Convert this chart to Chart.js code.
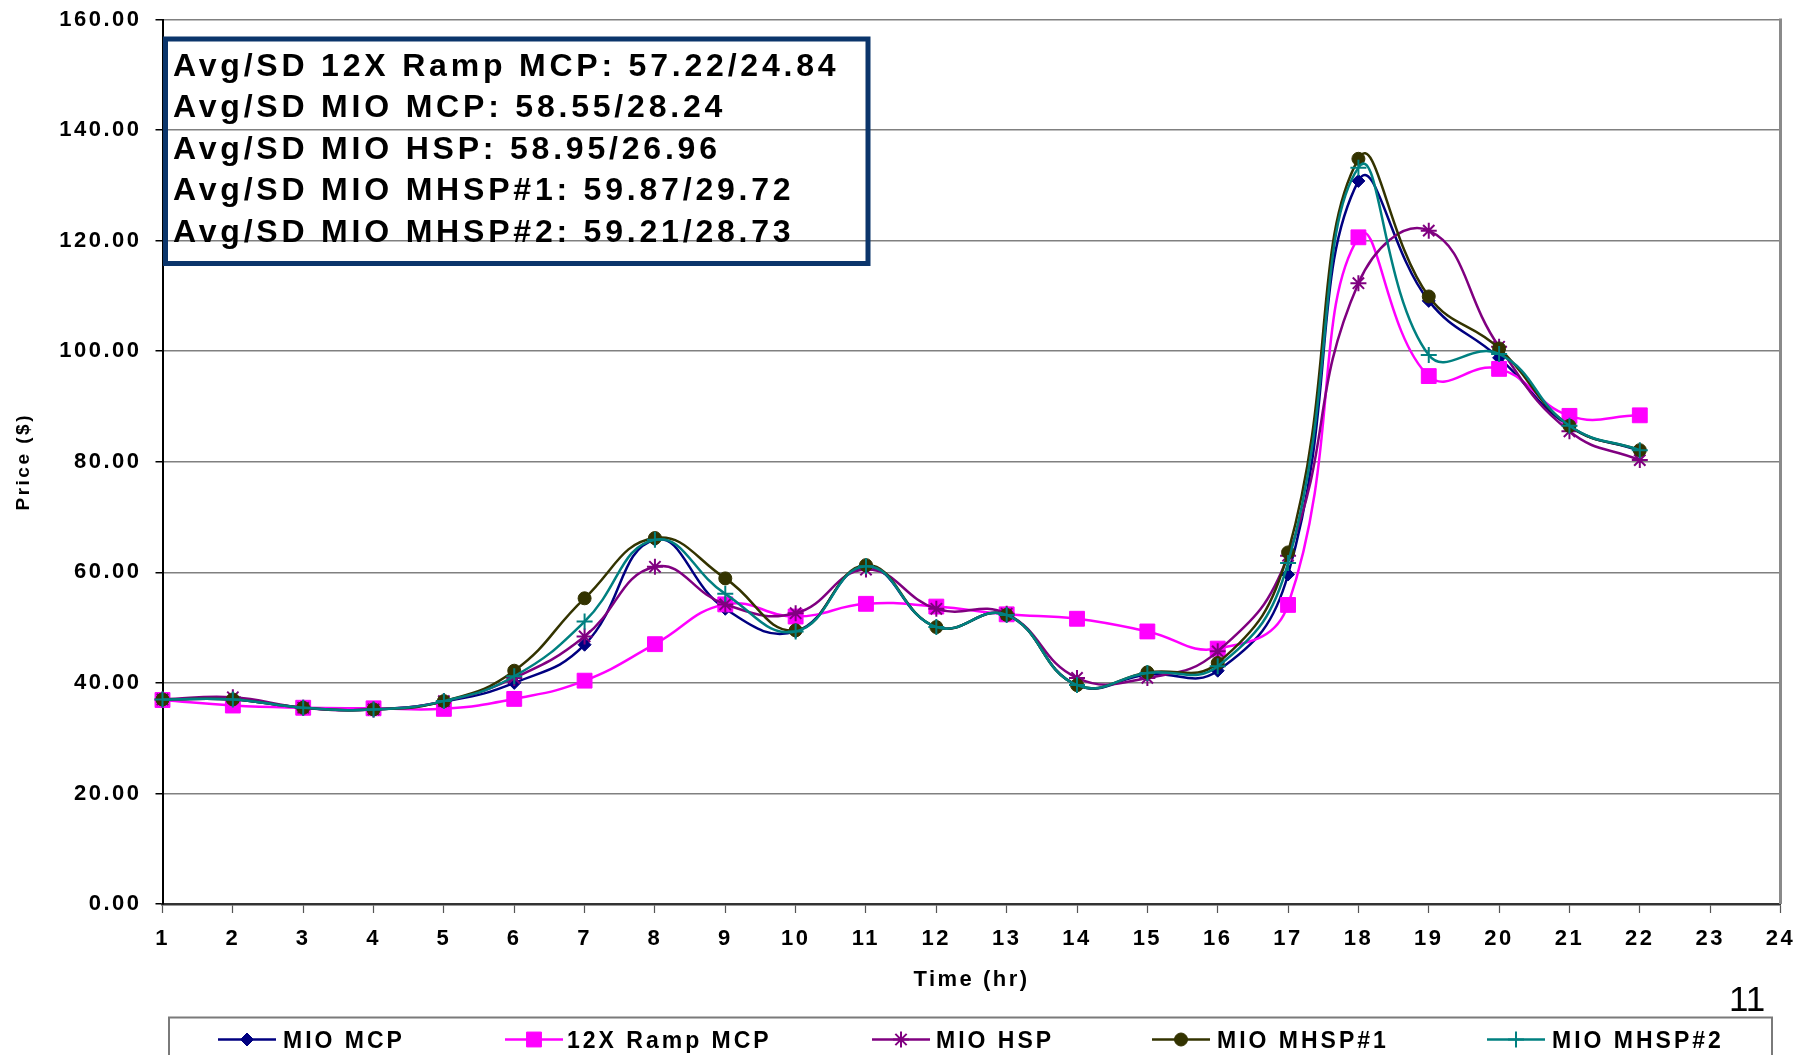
<!DOCTYPE html>
<html>
<head>
<meta charset="utf-8">
<title>Price by hour</title>
<script src="https://cdn.jsdelivr.net/npm/chart.js@4.4.1/dist/chart.umd.min.js"></script>
<style>
  html, body { margin: 0; padding: 0; background: #ffffff; }
  canvas { display: block; }
</style>
</head>
<body>
<canvas id="chart" width="1807" height="1055" style="width:1807px;height:1055px"></canvas>
<script>
// Hour labels on the time axis
const hourLabels = ['1','2','3','4','5','6','7','8','9','10','11','12','13','14','15','16','17','18','19','20','21','22','23','24'];

// Price series ($), hours 1–22
const mioMcp    = [37.0, 37.0, 35.5, 35.2, 36.6, 40.0, 46.9, 65.9, 53.4, 49.3, 61.0, 50.1, 52.3, 39.6, 41.5, 42.2, 59.6, 130.8, 109.1, 98.8, 86.4, 82.0];
const rampMcp12 = [36.9, 35.9, 35.5, 35.4, 35.3, 37.1, 40.4, 47.0, 54.2, 52.0, 54.3, 53.8, 52.4, 51.6, 49.3, 46.2, 54.1, 120.6, 95.5, 96.8, 88.3, 88.4];
const mioHsp    = [37.0, 37.4, 35.5, 35.2, 36.7, 40.9, 48.4, 61.0, 54.2, 52.6, 60.5, 53.4, 52.5, 40.9, 40.9, 45.7, 63.0, 112.3, 121.8, 100.8, 85.5, 80.3];
const mioMhsp1  = [37.0, 37.0, 35.5, 35.2, 36.7, 42.2, 55.3, 66.2, 58.9, 49.5, 61.3, 50.1, 52.3, 39.6, 41.9, 43.6, 63.6, 134.8, 109.9, 100.5, 86.5, 82.1];
const mioMhsp2  = [37.0, 37.0, 35.5, 35.2, 36.7, 41.2, 51.1, 65.9, 56.1, 49.3, 61.1, 50.1, 52.3, 39.6, 41.8, 43.0, 61.7, 133.2, 99.3, 99.5, 86.5, 82.1];

// Summary statistics shown in the boxed note
const statLines = [
  'Avg/SD 12X Ramp MCP: 57.22/24.84',
  'Avg/SD MIO MCP: 58.55/28.24',
  'Avg/SD MIO HSP: 58.95/26.96',
  'Avg/SD MIO MHSP#1: 59.87/29.72',
  'Avg/SD MIO MHSP#2: 59.21/28.73'
];

const FONT = '"Liberation Sans", Arial, Helvetica, sans-serif';

function series(label, data, color, style, radius, bw, order) {
  return {
    label, data, order,
    borderColor: color,
    backgroundColor: color,
    borderWidth: 2.5,
    tension: 0.45,
    pointStyle: style,
    pointRadius: radius,
    pointHoverRadius: radius,
    pointBorderWidth: bw,
    pointBackgroundColor: color,
    pointBorderColor: color
  };
}

const datasets = [
  series('MIO MCP',       mioMcp,    '#000080', 'rectRot', 6.5, 1,   5),
  series('12X Ramp MCP',  rampMcp12, '#ff00ff', 'rect',    10.5, 1,  4),
  series('MIO HSP',       mioHsp,    '#800080', 'star',    8,   2,   3),
  series('MIO MHSP#1',    mioMhsp1,  '#333300', 'circle',  6.5, 1,   2),
  series('MIO MHSP#2',    mioMhsp2,  '#008080', 'cross',   8,   2,   1)
];

// Legend layout along the bottom strip: [line start x, text start x]
const legendSlots = [[218, 283], [505, 567], [872, 936], [1152, 1217], [1487, 1552]];

// Wider tracking for all axis text
const spacingPlugin = {
  id: 'spacing',
  beforeDraw(chart) { chart.ctx.letterSpacing = '2.5px'; }
};

// Right-hand frame line of the plot area
const framePlugin = {
  id: 'frame',
  beforeDatasetsDraw(chart) {
    const { ctx, chartArea: a } = chart;
    ctx.save();
    ctx.strokeStyle = '#8a8a8a';
    ctx.lineWidth = 3;
    ctx.beginPath();
    ctx.moveTo(a.right, a.top - 1);
    ctx.lineTo(a.right, a.bottom);
    ctx.stroke();
    ctx.restore();
  }
};

// Stats box, legend strip and page number
const overlayPlugin = {
  id: 'overlay',
  afterDraw(chart) {
    const ctx = chart.ctx;
    ctx.save();

    // boxed statistics
    ctx.strokeStyle = '#0b356b';
    ctx.lineWidth = 5;
    ctx.strokeRect(165.5, 39, 702.5, 224.5);
    ctx.fillStyle = '#000';
    ctx.font = 'bold 32px ' + FONT;
    ctx.letterSpacing = '3.8px';
    ctx.textAlign = 'left';
    ctx.textBaseline = 'alphabetic';
    statLines.forEach((t, i) => ctx.fillText(t, 173, 75.5 + i * 41.5));

    // legend frame
    ctx.letterSpacing = '0px';
    ctx.strokeStyle = '#7a7a7a';
    ctx.lineWidth = 2;
    ctx.strokeRect(169, 1017.5, 1603, 60);

    // legend entries
    const cy = 1039.5;
    chart.data.datasets.forEach((ds, i) => {
      const [lx, tx] = legendSlots[i];
      ctx.strokeStyle = ds.borderColor;
      ctx.lineWidth = 2.5;
      ctx.beginPath();
      ctx.moveTo(lx, cy);
      ctx.lineTo(lx + 58, cy);
      ctx.stroke();
      ctx.fillStyle = ds.pointBackgroundColor;
      ctx.strokeStyle = ds.pointBorderColor;
      ctx.lineWidth = ds.pointBorderWidth;
      Chart.helpers.drawPoint(ctx, {
        pointStyle: ds.pointStyle,
        radius: ds.pointRadius,
        borderWidth: ds.pointBorderWidth,
        rotation: 0
      }, lx + 29, cy);
      ctx.fillStyle = '#000';
      ctx.font = 'bold 23px ' + FONT;
      ctx.letterSpacing = '3px';
      ctx.fillText(ds.label, tx, 1048);
      ctx.letterSpacing = '0px';
    });

    // page number
    ctx.fillStyle = '#000';
    ctx.font = '35px ' + FONT;
    ctx.fillText('11', 1729, 1011);

    ctx.restore();
  }
};

new Chart(document.getElementById('chart'), {
  type: 'line',
  data: { labels: hourLabels, datasets },
  options: {
    responsive: false,
    devicePixelRatio: 1,
    animation: false,
    layout: { padding: { left: 0, right: 26.5, top: 19.5, bottom: 51 } },
    plugins: {
      legend: { display: false },
      tooltip: { enabled: false }
    },
    scales: {
      x: {
        type: 'category',
        offset: false,
        afterFit(scale) { scale.height = 100; },
        grid: {
          drawOnChartArea: false,
          drawTicks: true,
          tickLength: 9,
          tickColor: '#555',
          tickWidth: 1.2
        },
        border: { color: '#333', width: 2.5 },
        ticks: {
          autoSkip: false,
          maxRotation: 0,
          padding: 13,
          color: '#000',
          font: { family: FONT, size: 22, weight: 'bold' }
        },
        title: {
          display: true,
          text: 'Time (hr)',
          color: '#000',
          padding: { top: 0, bottom: 11 },
          font: { family: FONT, size: 22, weight: 'bold' }
        }
      },
      y: {
        min: 0,
        max: 160,
        afterFit(scale) { scale.width = 162.5; },
        grid: {
          color: '#808080',
          lineWidth: 1.5,
          tickLength: 7,
          tickColor: '#000',
          tickWidth: 1.5
        },
        border: { color: '#000', width: 2 },
        ticks: {
          stepSize: 20,
          padding: 14,
          color: '#000',
          font: { family: FONT, size: 22, weight: 'bold', lineHeight: 0.4 },
          callback: (v) => Number(v).toFixed(2)
        },
        title: {
          display: true,
          text: 'Price ($)',
          color: '#000',
          padding: { top: 12, bottom: 0 },
          font: { family: FONT, size: 19, weight: 'bold' }
        }
      }
    }
  },
  plugins: [spacingPlugin, framePlugin, overlayPlugin]
});
</script>
</body>
</html>
